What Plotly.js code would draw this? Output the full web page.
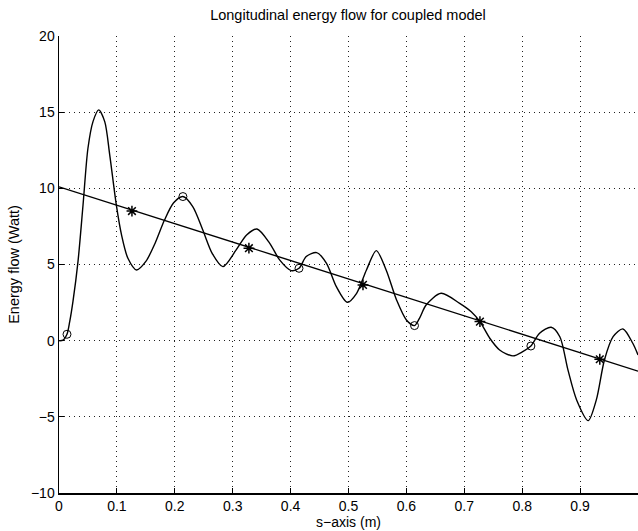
<!DOCTYPE html>
<html>
<head>
<meta charset="utf-8">
<script src="https://cdn.plot.ly/plotly-3.0.1.min.js"></script>
<style>html,body{margin:0;padding:0;background:#fff;}#chart{width:638px;height:531px;}</style>
</head>
<body>
<div id="chart"></div>
<script>
// Oscillating energy flow
const waveX = [0, 0.007, 0.0138, 0.0185, 0.0242, 0.0328, 0.0415, 0.050, 0.0587, 0.0686, 0.079, 0.0876, 0.099, 0.108, 0.119, 0.134, 0.150, 0.166, 0.182, 0.198, 0.214, 0.231, 0.248, 0.265, 0.283, 0.306, 0.324, 0.342, 0.364, 0.381, 0.401, 0.4145, 0.427, 0.445, 0.462, 0.479, 0.498, 0.514, 0.531, 0.548, 0.565, 0.583, 0.600, 0.614, 0.623, 0.634, 0.660, 0.692, 0.712, 0.727, 0.744, 0.761, 0.784, 0.801, 0.815, 0.830, 0.850, 0.865, 0.879, 0.894, 0.914, 0.928, 0.942, 0.957, 0.974, 0.991, 1.0];
const waveY = [0.0, 0.03, 0.42, 1.25, 2.6, 5.19, 8.91, 12.63, 14.38, 15.15, 14.38, 12.2, 8.91, 6.94, 5.41, 4.64, 5.2, 6.4, 7.9, 9.05, 9.46, 8.8, 7.3, 5.7, 4.86, 5.96, 6.94, 7.33, 6.39, 5.3, 4.6, 4.75, 5.52, 5.78, 5.08, 3.55, 2.52, 3.11, 4.64, 5.91, 4.64, 2.67, 1.36, 0.99, 1.5, 2.34, 3.11, 2.45, 1.9, 1.25, 0.16, -0.61, -1.0, -0.72, -0.35, 0.49, 0.88, 0.26, -1.92, -3.89, -5.25, -3.89, -1.27, 0.26, 0.77, -0.17, -0.94];
// Straight trend line
const lineX = [0, 1];
const lineY = [10.1, -2.0];
// Circle markers on the wave
const circleX = [0.0138, 0.214, 0.4145, 0.614, 0.815];
const circleY = [0.42, 9.46, 4.75, 0.99, -0.35];
// Star markers on the line
const starX = [0.126, 0.328, 0.525, 0.727, 0.934];
const starY = [8.51, 6.07, 3.66, 1.25, -1.22];
// Ticks
const xTickVals = [0, 0.1, 0.2, 0.3, 0.4, 0.5, 0.6, 0.7, 0.8, 0.9, 1];
const xTickText = ['0', '0.1', '0.2', '0.3', '0.4', '0.5', '0.6', '0.7', '0.8', '0.9', '1'];
const yTickVals = [-10, -5, 0, 5, 10, 15, 20];
const yTickText = ['\u221210', '\u22125', '0', '5', '10', '15', '20'];

const traces = [
  {x: waveX, y: waveY, mode: 'lines', line: {color: '#000', width: 1.4, shape: 'spline', smoothing: 0.8}, hoverinfo: 'skip'},
  {x: lineX, y: lineY, mode: 'lines', line: {color: '#000', width: 1.4}, hoverinfo: 'skip'},
  {x: circleX, y: circleY, mode: 'markers', marker: {symbol: 'circle-open', size: 8, color: '#000', line: {color: '#000', width: 1}}, hoverinfo: 'skip'},
  {x: starX, y: starY, mode: 'markers', marker: {symbol: 'asterisk-open', size: 9, color: '#000', line: {color: '#000', width: 1.5}}, hoverinfo: 'skip'}
];

const fontFam = 'Liberation Sans, Arial, Helvetica, sans-serif';
const layout = {
  width: 638, height: 531,
  margin: {l: 59, r: 0, t: 36, b: 38, pad: 0},
  paper_bgcolor: '#fff', plot_bgcolor: '#fff',
  showlegend: false,
  font: {family: fontFam, size: 14, color: '#000'},
  title: {text: 'Longitudinal energy flow for coupled model', font: {family: fontFam, size: 14.5, color: '#000'}, x: 348/638, xanchor: 'center', y: 1 - 15/531, yanchor: 'middle'},
  xaxis: {
    range: [0, 1], tickmode: 'array', tickvals: xTickVals, ticktext: xTickText,
    showgrid: true, gridcolor: '#222', gridwidth: 1, griddash: '1px,4px',
    zeroline: false, showline: true, linecolor: '#000', linewidth: 1.5,
    ticks: 'inside', ticklen: 5, tickcolor: '#000', tickwidth: 1,
    tickfont: {family: fontFam, size: 14, color: '#000'},
    title: {text: 's\u2212axis (m)', font: {family: fontFam, size: 14, color: '#000'}, standoff: 1},
    fixedrange: true
  },
  yaxis: {
    range: [-10, 20], tickmode: 'array', tickvals: yTickVals, ticktext: yTickText,
    showgrid: true, gridcolor: '#222', gridwidth: 1, griddash: '1px,4px',
    zeroline: false, showline: true, linecolor: '#000', linewidth: 1.5,
    ticks: 'inside', ticklen: 5, tickcolor: '#000', tickwidth: 1,
    tickfont: {family: fontFam, size: 14, color: '#000'},
    title: {text: 'Energy flow (Watt)', font: {family: fontFam, size: 14.5, color: '#000'}, standoff: 8},
    fixedrange: true
  }
};

Plotly.newPlot('chart', traces, layout, {displayModeBar: false, staticPlot: true});
</script>
</body>
</html>
